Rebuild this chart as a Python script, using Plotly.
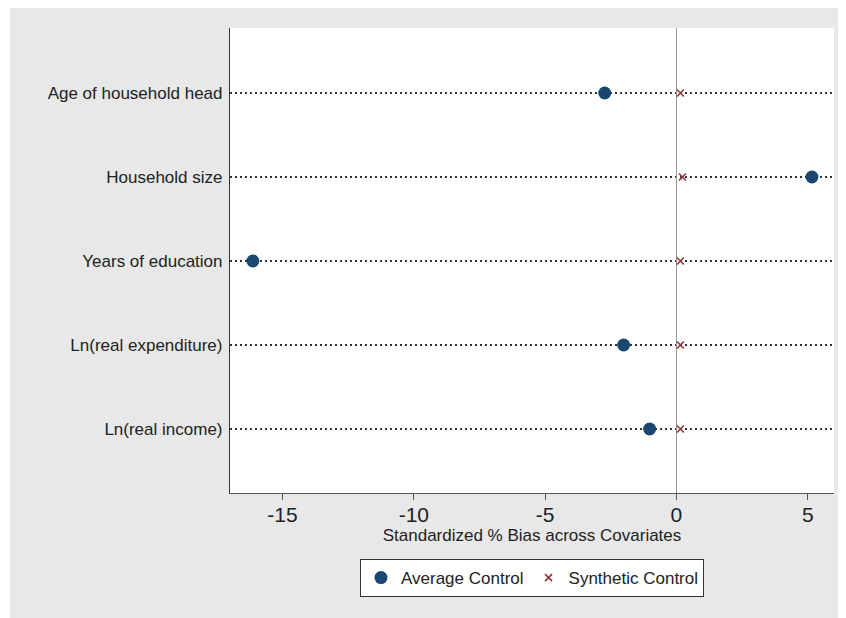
import plotly.graph_objects as go

categories = ["Age of household head", "Household size", "Years of education",
              "Ln(real expenditure)", "Ln(real income)"]
cat_pos = [5, 4, 3, 2, 1]
average_control = [-2.73, 5.16, -16.13, -2.01, -1.02]
synthetic_control = [0.15, 0.23, 0.15, 0.15, 0.15]
x_ticks = [-15, -10, -5, 0, 5]

# page body has an 8px margin; figure origin is at page (8, 8)
W, H = 830, 610
L, R, T, B = 222, 4, 20, 125
pw, ph = W - L - R, H - T - B

fig = go.Figure()
fig.add_trace(go.Scatter(
    x=average_control, y=cat_pos, mode="markers", name="Average Control",
    marker=dict(symbol="circle", size=13, color="#1a476f"),
))
fig.add_trace(go.Scatter(
    x=synthetic_control, y=cat_pos, mode="markers", name="Synthetic Control",
    marker=dict(symbol="x-thin", size=7, color="#90353b",
                line=dict(width=1.6, color="#90353b")),
))

font = "Liberation Sans, Arial, sans-serif"

# thin white strip left of the gray panel
fig.add_shape(type="rect", xref="paper", yref="paper",
              x0=(0 - L) / pw - 0.01, x1=(2 - L) / pw, y0=-B / ph - 0.02, y1=(H - B) / ph + 0.02,
              fillcolor="white", line=dict(width=0), layer="above")

fig.update_layout(
    width=W, height=H,
    margin=dict(l=L, r=R, t=T, b=B),
    paper_bgcolor="#e8e8e8",
    plot_bgcolor="white",
    font=dict(family=font, size=17, color="#222"),
    showlegend=True,
    legend=dict(orientation="h", x=0.50, xanchor="center", y=-0.142, yanchor="top",
                bgcolor="white", bordercolor="#333", borderwidth=1,
                font=dict(size=17, color="#222"), itemwidth=30),
    xaxis=dict(range=[-17, 6], tickvals=x_ticks, ticktext=[str(v) for v in x_ticks],
               showgrid=False, zeroline=True, zerolinecolor="#999", zerolinewidth=1,
               showline=True, linecolor="#555", linewidth=1,
               ticks="outside", ticklen=6, tickcolor="#555", ticklabelstandoff=-3,
               tickfont=dict(size=21, color="#222"),
               title=dict(text="Standardized % Bias across Covariates",
                          font=dict(size=17, color="#222"), standoff=2)),
    yaxis=dict(range=[0.238, 5.774], tickvals=cat_pos, ticktext=categories,
               showgrid=True, gridcolor="#333", gridwidth=1.5, griddash="2px,3px",
               zeroline=False, showline=True, linecolor="#333", linewidth=1.2,
               ticks="", ticklabelstandoff=3,
               tickfont=dict(size=17, color="#222")),
)

fig.write_html("out.html")
